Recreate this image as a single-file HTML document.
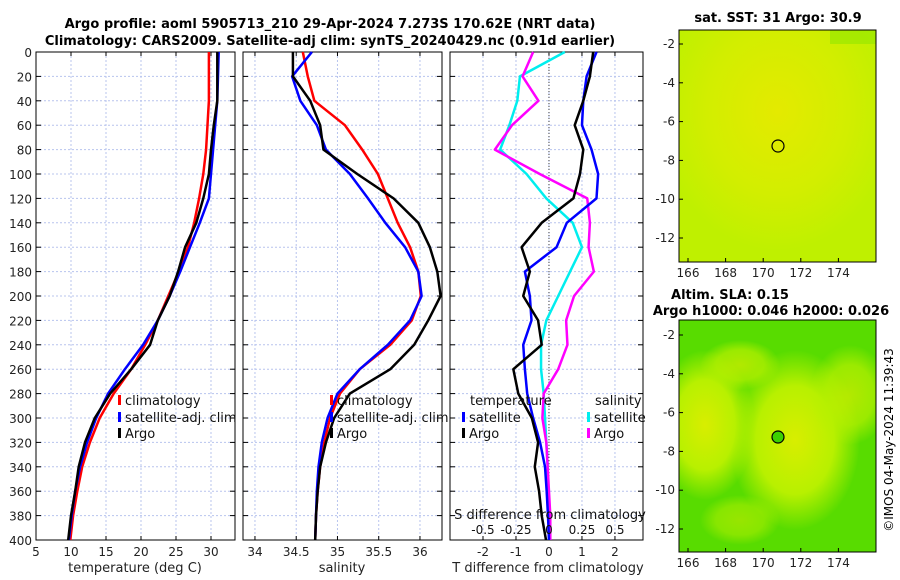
<!DOCTYPE html>
<html><head><meta charset="utf-8"><style>
body{margin:0;background:#fff;}
svg{display:block;font-family:"DejaVu Sans","Liberation Sans",sans-serif;}
</style></head><body>
<svg id="c" width="900" height="580" viewBox="0 0 900 580">
<defs>
<radialGradient id="sstc" cx="0.5" cy="0.35" r="0.6"><stop offset="0" stop-color="#e4ea00"/><stop offset="0.6" stop-color="#d2ee00"/><stop offset="1" stop-color="#bff000"/></radialGradient>
<radialGradient id="slaA" cx="0.5" cy="0.5" r="0.5"><stop offset="0" stop-color="#d8ee00"/><stop offset="0.6" stop-color="#b8f000"/><stop offset="1" stop-color="#b8f000" stop-opacity="0"/></radialGradient>
<clipPath id="slaclip"><rect x="679" y="320" width="197" height="232"/></clipPath>
</defs>
<g id="titles">
<text x="330" y="28" text-anchor="middle" font-size="13" font-weight="bold">Argo profile: aoml 5905713_210 29-Apr-2024 7.273S 170.62E (NRT data)</text>
<text x="330" y="45" text-anchor="middle" font-size="13" font-weight="bold">Climatology: CARS2009. Satellite-adj clim: synTS_20240429.nc (0.91d earlier)</text>
</g>
<g id="p1"></g><g id="p2"></g><g id="p3"></g>
<g id="maps">
<text x="778" y="22" text-anchor="middle" font-size="13" font-weight="bold">sat. SST: 31 Argo: 30.9</text>
<rect x="679" y="30" width="197" height="232" fill="url(#sstc)"/>
<rect x="830" y="30" width="46" height="14" fill="#9ae800" opacity="0.7"/>
<circle cx="778" cy="146" r="6" fill="none" stroke="#000" stroke-width="1.2"/>
<rect x="679" y="30" width="197" height="232" fill="none" stroke="#000"/>
<text x="730" y="299" text-anchor="middle" font-size="13" font-weight="bold">Altim. SLA: 0.15</text>
<text x="771" y="315" text-anchor="middle" font-size="13" font-weight="bold">Argo h1000: 0.046 h2000: 0.026</text>
<rect x="679" y="320" width="197" height="232" fill="#58dc00"/>
<g clip-path="url(#slaclip)">
<ellipse cx="705" cy="425" rx="50" ry="75" fill="url(#slaA)"/>
<ellipse cx="795" cy="440" rx="65" ry="90" fill="url(#slaA)"/>
<ellipse cx="740" cy="365" rx="40" ry="25" fill="url(#slaA)" opacity="0.7"/>
<ellipse cx="850" cy="395" rx="40" ry="50" fill="url(#slaA)" opacity="0.7"/>
<ellipse cx="740" cy="520" rx="40" ry="25" fill="url(#slaA)" opacity="0.5"/>
</g>
<circle cx="778" cy="437" r="6" fill="#3cd000" stroke="#000" stroke-width="1.2"/>
<rect x="679" y="320" width="197" height="232" fill="none" stroke="#000"/>
<g id="mapticks"></g>
<text transform="translate(893,440) rotate(-90)" text-anchor="middle" font-size="12">©IMOS 04-May-2024 11:39:43</text>
</g>
</svg>
<script>
const depths=[0,20,40,60,80,100,120,140,160,180,200,220,240,260,280,300,320,340,360,380,400];
const tempClim=[29.7,29.7,29.7,29.5,29.3,28.9,28.3,27.6,26.7,25.4,23.9,22.4,20.6,18.6,16.1,14.1,12.7,11.6,10.9,10.3,9.9];
const tempSat=[31.1,31.0,30.9,30.6,30.3,30.0,29.7,28.4,27.0,25.6,24.1,22.4,20.3,17.7,15.3,13.6,12.3,11.3,10.6,10.1,9.7];
const tempArgo=[30.9,30.9,30.9,30.4,30.0,29.7,28.9,27.9,26.3,25.3,24.1,22.4,21.3,18.6,15.6,13.4,12.0,11.1,10.6,10.0,9.6];
const salClim=[34.58,34.64,34.72,35.09,35.30,35.49,35.61,35.73,35.88,35.98,36.01,35.90,35.64,35.27,35.03,34.91,34.84,34.79,34.76,34.74,34.73];
const salSat=[34.69,34.45,34.55,34.75,34.86,35.15,35.37,35.58,35.82,35.98,36.02,35.88,35.61,35.27,35.00,34.88,34.81,34.77,34.75,34.74,34.73];
const salArgo=[34.46,34.46,34.67,34.79,34.83,35.24,35.68,35.98,36.12,36.21,36.25,36.10,35.93,35.64,35.15,34.96,34.86,34.79,34.76,34.74,34.73];
const dT_sat=[1.44,1.14,1.04,1.00,1.29,1.49,1.44,0.54,0.23,-0.73,-0.58,-0.53,-0.78,-0.73,-0.66,-0.48,-0.27,-0.12,-0.07,-0.03,0.0];
const dT_argo=[1.34,1.24,1.04,0.78,1.04,0.94,0.74,-0.22,-0.83,-0.58,-0.78,-0.33,-0.22,-1.08,-0.93,-0.52,-0.33,-0.43,-0.30,-0.22,-0.09];
const dS_sat=[0.12,-0.22,-0.24,-0.30,-0.37,-0.17,-0.02,0.18,0.25,0.16,0.07,-0.02,-0.06,-0.06,-0.04,-0.03,-0.02,-0.01,-0.01,0.0,0.0];
const dS_argo=[-0.12,-0.20,-0.08,-0.28,-0.41,-0.07,0.29,0.31,0.30,0.34,0.19,0.13,0.14,0.07,-0.04,-0.05,-0.02,-0.01,0.0,0.01,0.01];
const tTicks=[5,10,15,20,25,30];
const sTicks=[34,34.5,35,35.5,36];
const dTTicks=[-2,-1,0,1,2];
const dSTicks=[-0.5,-0.25,0,0.25,0.5];
const dSTickLabels=["-0.5","-0.25","0","0.25","0.5"];
const depthTicks=[0,20,40,60,80,100,120,140,160,180,200,220,240,260,280,300,320,340,360,380,400];
const lonTicks=[166,168,170,172,174];
const latTicks=[-2,-4,-6,-8,-10,-12];

const NS='http://www.w3.org/2000/svg';
function mk(tag,attrs,parent){const e=document.createElementNS(NS,tag);for(const k in attrs)e.setAttribute(k,attrs[k]);parent.appendChild(e);return e;}
const Y0=52,Y1=540;
const yD=d=>Y0+(d/400)*(Y1-Y0);
function panel(g,x0,x1,xmin,xmax,ticks,labels,leftLabels,name){
  const xs=v=>x0+(v-xmin)/(xmax-xmin)*(x1-x0);
  ticks.forEach((t,i)=>{
    const l=mk('line',{x1:xs(t),x2:xs(t),y1:Y0,y2:Y1,stroke:'#b8c4ee','stroke-dasharray':'2,2','stroke-width':1},g);
    
    
    mk('line',{x1:xs(t),x2:xs(t),y1:Y1,y2:Y1-4,stroke:'#000'},g);
    mk('line',{x1:xs(t),x2:xs(t),y1:Y0,y2:Y0+4,stroke:'#000'},g);
    if(labels){const tx=mk('text',{x:xs(t),y:556,'text-anchor':'middle','font-size':12,fill:'#222'},g);tx.textContent=labels[i];
    
    }
  });
  depthTicks.forEach(d=>{
    const l=mk('line',{x1:x0,x2:x1,y1:yD(d),y2:yD(d),stroke:'#b8c4ee','stroke-dasharray':'2,2'},g);
    
    
    mk('line',{x1:x0,x2:x0+5,y1:yD(d),y2:yD(d),stroke:'#000'},g);
    mk('line',{x1:x1,x2:x1-5,y1:yD(d),y2:yD(d),stroke:'#000'},g);
    if(leftLabels){const tx=mk('text',{x:x0-4,y:yD(d)+5,'text-anchor':'end','font-size':12,fill:'#222'},g);tx.textContent=d;
    
    }
  });
  const f=mk('rect',{x:x0,y:Y0,width:x1-x0,height:Y1-Y0,fill:'none',stroke:'#000'},g);
  
  
  return xs;
}
function line(g,xs,vals,color,nm){
  const p=mk('polyline',{points:vals.map((v,i)=>xs(v)+','+yD(depths[i])).join(' '),fill:'none',stroke:color,'stroke-width':2.5,'stroke-linejoin':'round'},g);
  
  
}
function legend(g,x,y,color,label,nm){
  mk('rect',{x:x,y:y-10,width:3,height:10,fill:color},g);
  const t=mk('text',{x:x+7,y:y,'font-size':13,fill:'#111'},g);t.textContent=label;
  
  
}
const g1=document.getElementById('p1');
const xT=panel(g1,36,235,5,33.43,tTicks,tTicks.map(String),true,'temperature-panel');
line(g1,xT,tempClim,'#f00','temp-climatology-line');
line(g1,xT,tempSat,'#00f','temp-satellite-line');
line(g1,xT,tempArgo,'#000','temp-argo-line');
legend(g1,118,405,'#f00','climatology','temp-legend-climatology');
legend(g1,118,422,'#00f','satellite-adj. clim','temp-legend-satellite');
legend(g1,118,438,'#000','Argo','temp-legend-argo');
let t=mk('text',{x:135,y:572,'text-anchor':'middle','font-size':13,fill:'#222'},g1);t.textContent='temperature (deg C)';


const g2=document.getElementById('p2');
const xS=panel(g2,243,442,33.855,36.267,sTicks,sTicks.map(String),false,'salinity-panel');
line(g2,xS,salClim,'#f00','sal-climatology-line');
line(g2,xS,salSat,'#00f','sal-satellite-line');
line(g2,xS,salArgo,'#000','sal-argo-line');
legend(g2,330,405,'#f00','climatology','sal-legend-climatology');
legend(g2,330,422,'#00f','satellite-adj. clim','sal-legend-satellite');
legend(g2,330,438,'#000','Argo','sal-legend-argo');
t=mk('text',{x:342,y:572,'text-anchor':'middle','font-size':13,fill:'#222'},g2);t.textContent='salinity';


const g3=document.getElementById('p3');
const xd=panel(g3,450,643,-3,2.85,dTTicks,dTTicks.map(String),false,'difference-panel');
const xdS=v=>xd(v*4);
const z=mk('line',{x1:xd(0),x2:xd(0),y1:Y0,y2:Y1,stroke:'#444','stroke-dasharray':'1,2'},g3);


line(g3,xdS,dS_sat,'#0ee','sal-diff-satellite-line');
line(g3,xdS,dS_argo,'#f0f','sal-diff-argo-line');
line(g3,xd,dT_sat,'#00f','temp-diff-satellite-line');
line(g3,xd,dT_argo,'#000','temp-diff-argo-line');
t=mk('text',{x:470,y:405,'font-size':13,fill:'#111'},g3);t.textContent='temperature';


legend(g3,462,422,'#00f','satellite','diff-legend-temp-satellite');
legend(g3,462,438,'#000','Argo','diff-legend-temp-argo');
t=mk('text',{x:595,y:405,'font-size':13,fill:'#111'},g3);t.textContent='salinity';


legend(g3,587,422,'#0ee','satellite','diff-legend-sal-satellite');
legend(g3,587,438,'#f0f','Argo','diff-legend-sal-argo');
t=mk('text',{x:550,y:519,'text-anchor':'middle','font-size':13,fill:'#111'},g3);t.textContent='S difference from climatology';


dSTicks.forEach((v,i)=>{const tx=mk('text',{x:xdS(v),y:534,'text-anchor':'middle','font-size':12,fill:'#111'},g3);tx.textContent=dSTickLabels[i];

});
t=mk('text',{x:548,y:572,'text-anchor':'middle','font-size':13,fill:'#222'},g3);t.textContent='T difference from climatology';


const gm=document.getElementById('mapticks');
const lonX=v=>688+(v-166)*18.8;
[[262,44],[552,335]].forEach(([bot,y2])=>{
  const step=19.4;
  lonTicks.forEach(v=>{const tx=mk('text',{x:lonX(v),y:bot+15,'text-anchor':'middle','font-size':12,fill:'#222'},gm);tx.textContent=v;
  
  
  mk('line',{x1:lonX(v),x2:lonX(v),y1:bot,y2:bot-4,stroke:'#000'},gm);});
  latTicks.forEach(v=>{const yy=y2+(-2-v)*step;const tx=mk('text',{x:675,y:yy+4,'text-anchor':'end','font-size':12,fill:'#222'},gm);tx.textContent=v;
  
  
  mk('line',{x1:679,x2:683,y1:yy,y2:yy,stroke:'#000'},gm);});
});
</script>
</body></html>
